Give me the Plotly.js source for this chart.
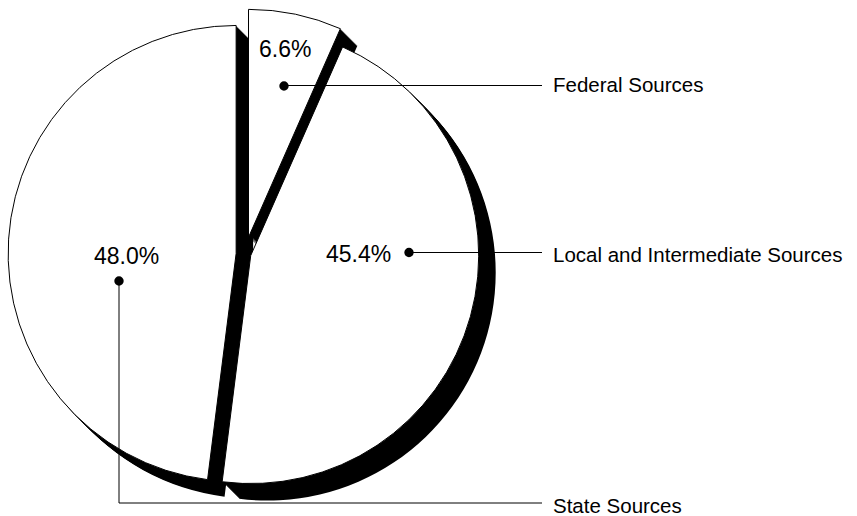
<!DOCTYPE html>
<html><head><meta charset="utf-8">
<script src="https://cdn.plot.ly/plotly-3.0.1.min.js"></script>
<style>html,body{margin:0;padding:0;background:#fff;overflow:hidden}#chart{width:857px;height:516px}</style>
</head><body><div id="chart"></div>
<script>
// ---- data ----
const categories = ['Federal Sources', 'Local and Intermediate Sources', 'State Sources'];
const shares = [6.6, 45.4, 48.0];

// ---- layout helpers (pixels -> paper) ----
const W = 857, H = 516;
const px = x => x / W;
const py = y => 1 - y / H;
const pulls = [0.0746, 0.026, 0.039];   // exploded slices (fraction of radius)
const pieR = 228;                         // radius in px
const pieC = [245, 254];                  // pie centre in px
const half = pieR * (1 + Math.max(...pulls));
const box = {x0: pieC[0] - half, x1: pieC[0] + half, y0: pieC[1] - half, y1: pieC[1] + half};
const depth = 17;
const FONT = 'Liberation Sans, Arial, Helvetica, sans-serif';

const clamp = v => Math.min(1, Math.max(0, v));
const traces = [];
// extruded shadow layers (drawn first, behind)
for (let k = depth; k >= 1; k--) {
  traces.push({
    type: 'pie', values: shares, labels: categories, sort: false,
    direction: 'clockwise', rotation: 0, pull: pulls,
    marker: {colors: shares.map(() => '#000000'), line: {width: 0}},
    textinfo: 'none', hoverinfo: 'skip', showlegend: false,
    domain: {x: [clamp(px(box.x0 + k)), clamp(px(box.x1 + k))], y: [clamp(py(box.y1 + k)), clamp(py(box.y0 + k))]}
  });
}
// top white pie
traces.push({
  type: 'pie', values: shares, labels: categories, sort: false,
  direction: 'clockwise', rotation: 0, pull: pulls,
  marker: {colors: shares.map(() => '#ffffff'), line: {color: '#000000', width: 1}},
  textinfo: 'none', hoverinfo: 'label+percent', showlegend: false,
  domain: {x: [clamp(px(box.x0)), clamp(px(box.x1))], y: [clamp(py(box.y1)), clamp(py(box.y0))]}
});

// label / connector placement (pixel positions)
const pctPos = [[285, 49], [358, 254], [126.5, 256]];
const dotPos = [[284, 86], [409, 252.5], [119, 281]];
const lineY = [85.5, 252.5, 503];
const nameY = [84.5, 254.5, 505];
const lineEndX = 542;
const nameX = 551;

const annotations = [];
const shapes = [];
categories.forEach((c, i) => {
  annotations.push({
    xref: 'paper', yref: 'paper', x: px(pctPos[i][0]), y: py(pctPos[i][1]),
    xanchor: 'center', yanchor: 'middle', showarrow: false,
    text: shares[i].toFixed(1) + '%', font: {family: FONT, size: 23, color: '#000'}
  });
  annotations.push({
    xref: 'paper', yref: 'paper', x: px(nameX), y: py(nameY[i]),
    xanchor: 'left', yanchor: 'middle', showarrow: false,
    text: c, font: {family: FONT, size: 20.5, color: '#000'}
  });
  const [dx, dy] = dotPos[i];
  const r = 4.7;
  shapes.push({type: 'circle', xref: 'paper', yref: 'paper',
    x0: px(dx - r), x1: px(dx + r), y0: py(dy + r), y1: py(dy - r),
    fillcolor: '#000', line: {color: '#000', width: 0}});
  if (Math.abs(dy - lineY[i]) < 2) {
    shapes.push({type: 'line', xref: 'paper', yref: 'paper',
      x0: px(dx), x1: px(lineEndX), y0: py(lineY[i]), y1: py(lineY[i]),
      line: {color: '#000', width: 1}});
  } else {
    shapes.push({type: 'path', xref: 'paper', yref: 'paper',
      path: `M ${px(dx)} ${py(dy)} L ${px(dx)} ${py(lineY[i])} L ${px(lineEndX)} ${py(lineY[i])}`,
      line: {color: '#000', width: 1}});
  }
});

const layout = {
  width: W, height: H,
  margin: {l: 0, r: 0, t: 0, b: 0},
  paper_bgcolor: '#fff', plot_bgcolor: '#fff',
  showlegend: false,
  annotations: annotations, shapes: shapes
};

Plotly.newPlot('chart', traces, layout, {displayModeBar: false, staticPlot: true});
</script>
</body></html>
